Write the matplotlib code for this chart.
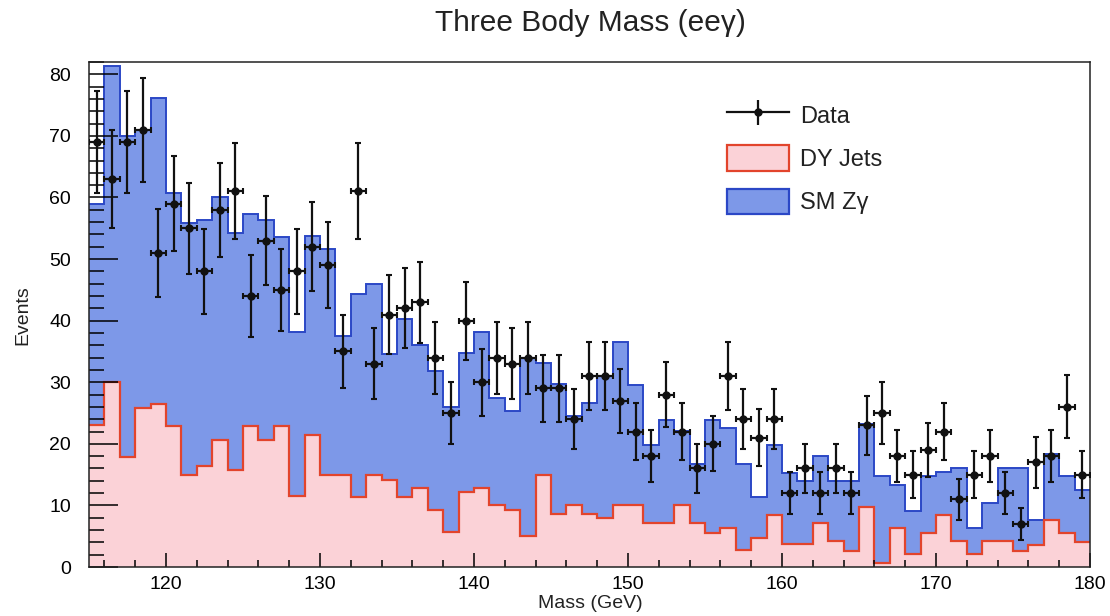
import numpy as np
import matplotlib
matplotlib.use("Agg")
import matplotlib.pyplot as plt
from matplotlib.lines import Line2D
from matplotlib.patches import Patch
from matplotlib.legend_handler import HandlerTuple
from matplotlib.ticker import MultipleLocator

plt.rcParams['font.family'] = ['Liberation Sans', 'DejaVu Sans']

# ---- data -----------------------------------------------------------
mass_min, mass_max, n_bins = 115, 180, 65

data_counts = [69, 63, 69, 71, 51, 59, 55, 48, 58, 61,
               44, 53, 45, 48, 52, 49, 35, 61, 33, 41,
               42, 43, 34, 25, 40, 30, 34, 33, 34, 29,
               29, 24, 31, 31, 27, 22, 18, 28, 22, 16,
               20, 31, 24, 21, 24, 12, 16, 12, 16, 12,
               23, 25, 18, 15, 19, 22, 11, 15, 18, 12,
               7, 17, 18, 26, 15]

dy_jets = [23.0, 30.1, 17.9, 25.8, 26.5, 22.9, 15.0, 16.4, 20.7, 15.7,
           22.9, 20.7, 22.9, 11.5, 21.4, 14.9, 14.9, 11.4, 14.9, 14.2,
           11.4, 12.8, 9.3, 5.7, 12.1, 12.8, 10.1, 9.3, 5.0, 14.9,
           8.6, 10.0, 8.6, 7.9, 10.0, 10.0, 7.1, 7.1, 10.0, 7.1,
           5.6, 6.4, 2.8, 4.7, 8.4, 3.7, 3.7, 7.1, 4.2, 2.6,
           9.8, 0.6, 6.3, 2.1, 5.6, 8.4, 4.2, 2.1, 4.2, 4.2,
           2.6, 3.5, 7.6, 5.5, 4.0]

sm_zgamma = [36.0, 51.2, 52.1, 45.2, 49.7, 37.9, 40.8, 40.0, 39.4, 38.6,
             34.4, 35.7, 30.7, 26.7, 32.3, 36.7, 22.6, 33.0, 31.0, 20.4,
             28.8, 23.2, 22.6, 20.3, 22.6, 25.3, 17.4, 16.1, 28.9, 18.3,
             21.1, 14.5, 18.1, 23.1, 26.6, 19.5, 12.7, 16.8, 12.1, 9.7,
             18.3, 16.1, 14.0, 6.6, 11.4, 11.6, 10.3, 11.0, 9.8, 11.4,
             13.5, 14.1, 7.0, 7.0, 9.1, 7.1, 11.8, 4.2, 6.2, 11.8,
             13.4, 4.2, 10.7, 9.2, 8.5]

x_ticks = [120, 130, 140, 150, 160, 170, 180]
y_ticks = [0, 10, 20, 30, 40, 50, 60, 70, 80]

# ---- styling ----------------------------------------------------------
W, H = 1110, 616
blue_fill, blue_edge = '#7d98e8', '#2b47c6'
pink_fill, red_edge = '#fbd2d7', '#e2442c'

edges = np.linspace(mass_min, mass_max, n_bins + 1)
centers = 0.5 * (edges[:-1] + edges[1:])
half_w = 0.5 * (edges[1] - edges[0])
dy = np.array(dy_jets)
stack_top = dy + np.array(sm_zgamma)
data = np.array(data_counts, dtype=float)

fig = plt.figure(figsize=(W / 100, H / 100), dpi=100)
ax = fig.add_axes([89 / W, 1 - 567 / H, (1090 - 89) / W, (567 - 62) / H])

ax.stairs(stack_top, edges, baseline=0, fill=True, color=blue_fill, lw=0)
ax.stairs(stack_top, edges, baseline=None, color=blue_edge, lw=1.4)
ax.stairs(dy, edges, baseline=0, fill=True, color=pink_fill, lw=0)
ax.stairs(dy, edges, baseline=None, color=red_edge, lw=1.6)

ax.errorbar(centers, data, xerr=half_w, yerr=np.sqrt(data), fmt='o',
            color='#111111', ms=5, lw=1.6, capsize=2.5, capthick=1.5, zorder=5)

ax.set_xlim(mass_min, mass_max)
ax.set_ylim(0, 82)
ax.set_xticks(x_ticks)
ax.set_yticks(y_ticks)
ax.xaxis.set_minor_locator(MultipleLocator(2))
ax.yaxis.set_minor_locator(MultipleLocator(2))
ax.tick_params(axis='x', which='major', direction='in', length=10, width=1.1,
               labelsize=14, pad=6.5, top=False)
ax.tick_params(axis='x', which='minor', direction='in', length=5, width=1.1, top=False)
ax.tick_params(axis='y', which='major', direction='in', length=21, width=1.1,
               labelsize=14, pad=13, right=False)
ax.tick_params(axis='y', which='minor', direction='in', length=10.5, width=1.1, right=False)
for s in ax.spines.values():
    s.set_linewidth(1.1)
    s.set_color('#222222')

fig.text(590 / W, 1 - 23 / H, 'Three Body Mass (ee\u03b3)', ha='center', va='center',
         fontsize=21.5, color='#222222')
fig.text(590 / W, 1 - 603 / H, 'Mass (GeV)', ha='center', va='center',
         fontsize=14, color='#222222')
fig.text(23 / W, 1 - 315 / H, 'Events', ha='center', va='center', rotation=90,
         fontsize=14, color='#222222')

data_handle = (Line2D([], [], color='#111111', lw=1.6, marker='o', ms=5),
               Line2D([], [], color='#111111', ls='none', marker='|', ms=18, mew=1.6))
dy_handle = Patch(facecolor=pink_fill, edgecolor=red_edge, lw=1.6)
sm_handle = Patch(facecolor=blue_fill, edgecolor=blue_edge, lw=1.6)
leg = fig.legend([data_handle, dy_handle, sm_handle], ['Data', 'DY Jets', 'SM Z\u03b3'],
                 handler_map={tuple: HandlerTuple(ndivide=1)},
                 loc='upper left', bbox_to_anchor=(727 / W, 1 - 102 / H),
                 frameon=False, fontsize=17, borderpad=0, borderaxespad=0,
                 handlelength=2.63, handleheight=1.27, handletextpad=0.47,
                 labelspacing=0.75)
for t in leg.get_texts():
    t.set_color('#222222')

fig.savefig('out.png', dpi=100)
